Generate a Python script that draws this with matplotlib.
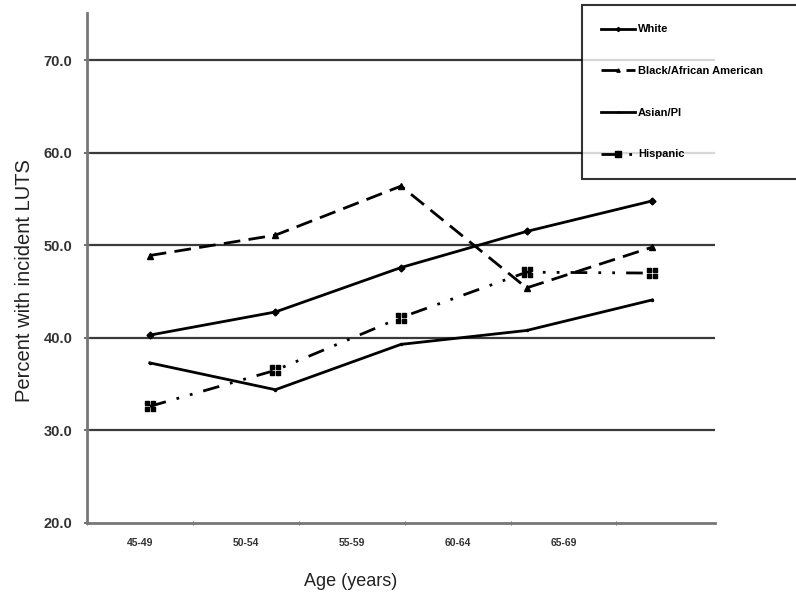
import numpy as np
import matplotlib
matplotlib.use("Agg")
from matplotlib import pyplot as plt
from matplotlib.path import Path

plt.rcParams['font.family'] = ['Liberation Sans', 'DejaVu Sans']

age_groups = ["45-49", "50-54", "55-59", "60-64", "65-69"]
white = [40.3, 42.8, 47.6, 51.5, 54.8]
black = [48.9, 51.1, 56.4, 45.4, 49.8]
asian = [37.3, 34.4, 39.3, 40.8, 44.1]
hispanic = [32.6, 36.5, 42.2, 47.1, 47.0]

# four little squares -> the "boxed cross" marker used for Hispanic
sq = []
for cx, cy in [(-0.5, -0.5), (0.5, -0.5), (-0.5, 0.5), (0.5, 0.5)]:
    sq.append(Path.unit_rectangle().transformed(
        matplotlib.transforms.Affine2D().translate(-0.5, -0.5).scale(0.8).translate(cx, cy)))
box_cross = Path.make_compound_path(*sq)

fig = plt.figure(figsize=(7.96, 6.03), dpi=100)
ax = fig.add_axes([87 / 796, 1 - 523 / 603, 628 / 796, 510 / 603])

x = np.arange(len(age_groups))
ax.plot(x, white, color='black', lw=2, marker='D', ms=3.5, label="White", zorder=5)
ax.plot(x, black, color='black', lw=2, ls=(0, (6, 3)), marker='^', ms=4,
        label="Black/African American", zorder=5)
ax.plot(x, asian, color='black', lw=2, marker='.', ms=3, label="Asian/PI", zorder=5)
ax.plot(x, hispanic, color='black', lw=2, ls=(0, (6, 4, 1, 4, 1, 4)), marker=box_cross,
        ms=6.5, label="Hispanic", zorder=5)

ax.set_xlim(-0.5, 4.5)
ax.set_ylim(20, 75.1)

ax.set_yticks([20, 30, 40, 50, 60, 70])
ax.set_yticklabels(["%.1f" % v for v in [20, 30, 40, 50, 60, 70]],
                   fontweight='bold', fontsize=10.5, color='#333333')
for v in [30, 40, 50, 60, 70]:
    ax.axhline(v, color='#3a3a3a', lw=1.6, zorder=1)

# category labels sit a bit left of the points in the original
step = 0.843
ax.set_xticks([-0.5 + step * (i + 0.5) for i in range(len(age_groups))])
ax.set_xticklabels(age_groups, fontweight='bold', fontsize=7.5, color='#333333')
ax.tick_params(axis='x', length=0, pad=11)
ax.set_xticks([-0.5 + step * i for i in range(6)], minor=True)
ax.tick_params(axis='x', which='minor', length=3, direction='inout', color='#555555')
ax.tick_params(axis='y', length=5, direction='inout', color='#555555', width=1.2, pad=8)

for s in ['top', 'right']:
    ax.spines[s].set_visible(False)
for s in ['left', 'bottom']:
    ax.spines[s].set_color('#777777')
    ax.spines[s].set_linewidth(2)

ax.set_ylabel("Percent with incident LUTS", fontsize=14.5, color='#222222')
ax.yaxis.set_label_coords(-0.085, 0.475)
ax.set_xlabel("Age (years)", fontsize=13, color='#222222')
ax.xaxis.set_label_coords(0.419, -0.098)

leg = ax.legend(loc='upper left', bbox_to_anchor=(582 / 796, 1 - 5 / 603 - 0.01, 0.3, 0.01),
                bbox_transform=fig.transFigure, mode='expand', borderaxespad=0, frameon=True,
                fancybox=False, edgecolor='black', prop={'weight': 'bold', 'size': 8},
                labelspacing=2.85, borderpad=1.75, handlelength=3, handletextpad=0.3,
                markerscale=0.6)
leg.get_frame().set_linewidth(1.5)
leg.set_zorder(10)

fig.savefig("out.png", dpi=100)
